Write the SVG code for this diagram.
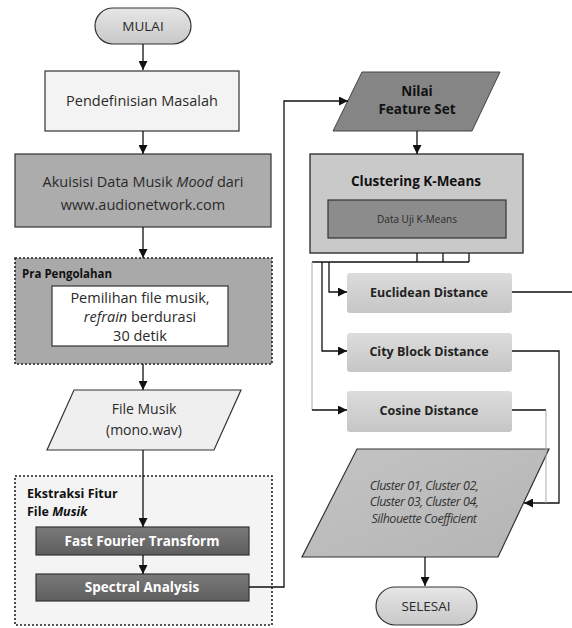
<svg xmlns="http://www.w3.org/2000/svg" width="572" height="628" viewBox="0 0 572 628">
<defs>
<linearGradient id="gTerm" x1="0" y1="0" x2="0" y2="1"><stop offset="0" stop-color="#e6e6e6"/><stop offset="1" stop-color="#c8c8c8"/></linearGradient>
<linearGradient id="gDark" x1="0" y1="0" x2="0" y2="1"><stop offset="0" stop-color="#7a7a7a"/><stop offset="1" stop-color="#5e5e5e"/></linearGradient>
<linearGradient id="gDist" x1="0" y1="0" x2="0" y2="1"><stop offset="0" stop-color="#dcdcdc"/><stop offset="1" stop-color="#c6c6c6"/></linearGradient>
<linearGradient id="gOut" x1="0" y1="0" x2="1" y2="1"><stop offset="0" stop-color="#c4c4c4"/><stop offset="1" stop-color="#b4b4b4"/></linearGradient>
<marker id="ah" viewBox="0 0 10 10" refX="10" refY="5" markerWidth="9" markerHeight="9" markerUnits="userSpaceOnUse" orient="auto"><path d="M0,0 L10,5 L0,10 z" fill="#111"/></marker>
<style>
.t{font-family:"Open Sans","Liberation Sans",sans-serif;fill:#2a2a2a;text-anchor:middle}
.b{font-family:"Open Sans","Liberation Sans",sans-serif;font-weight:bold;text-anchor:middle}
.l{font-family:"Open Sans","Liberation Sans",sans-serif;font-weight:bold;fill:#111}
.o{font-family:"Open Sans","Liberation Sans",sans-serif;font-style:italic;fill:#333;text-anchor:middle;font-size:12.5px;letter-spacing:-0.5px}
.c{stroke:#111;stroke-width:1.3;fill:none}
.cl{stroke:#aaa;stroke-width:1;fill:none}
.s{stroke:#333;stroke-width:1.2}
</style>
</defs>

<g id="mulai">
<rect x="95" y="8" width="96" height="36" rx="18" fill="url(#gTerm)" class="s"/>
<text class="t" x="143" y="31" font-size="13.5">MULAI</text>
</g>

<g id="pendefinisian">
<rect x="45" y="71" width="194" height="60" fill="#f3f3f3" class="s"/>
<text class="t" x="142" y="106" font-size="14.5">Pendefinisian Masalah</text>
</g>

<g id="akuisisi">
<rect x="15" y="154" width="256" height="73" fill="#acacac" class="s"/>
<text class="t" x="143" y="187" font-size="14.5">Akuisisi Data Musik <tspan font-style="italic">Mood</tspan> dari</text>
<text class="t" x="143" y="210" font-size="14.5">www.audionetwork.com</text>
</g>

<g id="pra-pengolahan">
<rect x="15" y="258" width="257" height="106" fill="#a9a9a9" stroke="#222" stroke-width="1.6" stroke-dasharray="2,2"/>
<text class="l" x="22" y="278" font-size="11.5">Pra Pengolahan</text>
<rect x="52" y="286" width="176" height="60" fill="#ffffff" class="s"/>
<text class="t" x="140" y="303" font-size="14.5">Pemilihan file musik,</text>
<text class="t" x="140" y="322" font-size="14.5"><tspan font-style="italic">refrain</tspan> berdurasi</text>
<text class="t" x="140" y="341" font-size="14.5">30 detik</text>
</g>

<g id="file-musik">
<polygon points="74,390 241,390 214,450 47,450" fill="#efefef" class="s"/>
<text class="t" x="144" y="414" font-size="14">File Musik</text>
<text class="t" x="144" y="435" font-size="14">(mono.wav)</text>
</g>

<g id="ekstraksi">
<rect x="15" y="476" width="257" height="149" fill="#f4f4f4" stroke="#222" stroke-width="1.6" stroke-dasharray="2,2"/>
<text class="l" x="27" y="498" font-size="12.5">Ekstraksi Fitur</text>
<text class="l" x="27" y="516" font-size="12.5">File <tspan font-style="italic">Musik</tspan></text>
</g>

<g id="fft">
<rect x="36" y="527" width="213" height="28" fill="url(#gDark)" class="s"/>
<text class="b" x="142" y="546" font-size="13.5" fill="#fff">Fast Fourier Transform</text>
</g>

<g id="spectral">
<rect x="36" y="574" width="213" height="27" fill="url(#gDark)" class="s"/>
<text class="b" x="142" y="592" font-size="13.5" fill="#fff">Spectral Analysis</text>
</g>

<g id="nilai-feature-set">
<polygon points="362,72 500,72 472,131 333,131" fill="#858585" stroke="#444" stroke-width="1"/>
<text class="b" x="417" y="96" font-size="13.5" fill="#111">Nilai</text>
<text class="b" x="417" y="114" font-size="13.5" fill="#111">Feature Set</text>
</g>

<g id="clustering">
<rect x="310" y="154" width="213" height="99" fill="#c9c9c9" stroke="#333" stroke-width="1.4"/>
<text class="b" x="416" y="186" font-size="13.5" fill="#111">Clustering K-Means</text>
<rect x="328" y="200" width="178" height="38" fill="#8c8c8c" stroke="#333" stroke-width="1.2"/>
<text class="t" x="417" y="223" font-size="10" fill="#333">Data Uji K-Means</text>
</g>

<g id="euclidean">
<rect x="347" y="273" width="165" height="40" rx="3" fill="url(#gDist)"/>
<text class="b" x="429" y="297" font-size="12.5" fill="#222">Euclidean Distance</text>
</g>

<g id="cityblock">
<rect x="347" y="333" width="165" height="39" rx="3" fill="url(#gDist)"/>
<text class="b" x="429" y="356" font-size="12.5" fill="#222">City Block Distance</text>
</g>

<g id="cosine">
<rect x="347" y="391" width="165" height="41" rx="3" fill="url(#gDist)"/>
<text class="b" x="429" y="415" font-size="12.5" fill="#222">Cosine Distance</text>
</g>

<g id="output">
<polygon points="357,449 549,449 498,557 302,557" fill="url(#gOut)" class="s"/>
<text class="o" x="424" y="490">Cluster 01, Cluster 02,</text>
<text class="o" x="424" y="506">Cluster 03, Cluster 04,</text>
<text class="o" x="424" y="523">Silhouette Coefficient</text>
</g>

<g id="selesai">
<rect x="376" y="587" width="101" height="38" rx="19" fill="url(#gTerm)" class="s"/>
<text class="t" x="426" y="611" font-size="13.5">SELESAI</text>
</g>

<g id="connectors">
<path class="c" d="M143,44 V70" marker-end="url(#ah)"/>
<path class="c" d="M143,131 V154" marker-end="url(#ah)"/>
<path class="c" d="M143,227 V258" marker-end="url(#ah)"/>
<path class="c" d="M143,364 V390" marker-end="url(#ah)"/>
<path class="c" d="M143,450 V527" marker-end="url(#ah)"/>
<path class="c" d="M143,555 V574" marker-end="url(#ah)"/>
<path class="c" d="M249,587 H284 V101 H348" marker-end="url(#ah)"/>
<path class="c" d="M417,131 V154" marker-end="url(#ah)"/>
<path class="c" d="M417,253 V262 M443,253 V262 M469,253 V262 M312,262 H469"/>
<path class="cl" d="M312,262 V410"/>
<path class="c" d="M312,410 H347" marker-end="url(#ah)"/>
<path class="c" d="M322,262 V351 H347" marker-end="url(#ah)"/>
<path class="c" d="M329,262 V292 H347" marker-end="url(#ah)"/>
<path class="c" d="M512,292 H572"/>
<path class="c" d="M512,351 H559 V503 H524" marker-end="url(#ah)"/>
<path class="c" d="M512,410 H546"/>
<path class="cl" d="M546,410 V503"/>
<path class="c" d="M425,557 V586" marker-end="url(#ah)"/>
</g>
</svg>
